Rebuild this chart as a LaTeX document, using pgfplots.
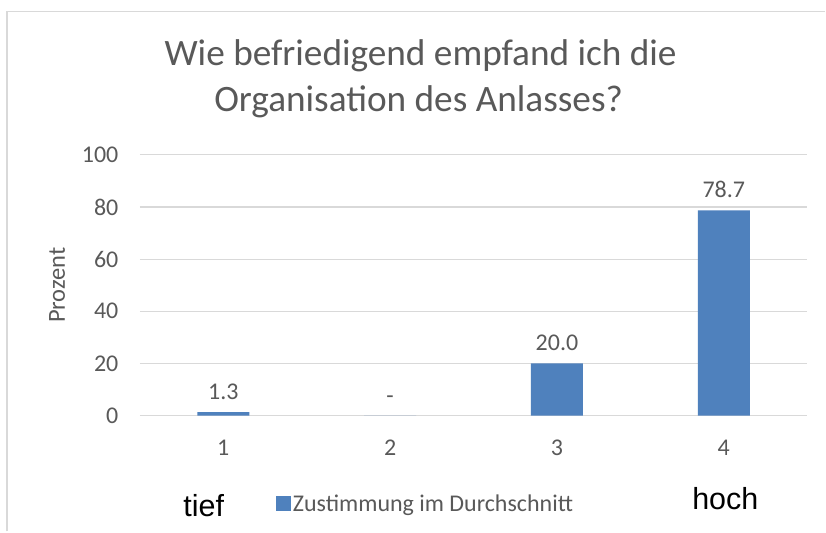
\documentclass[border=0pt]{standalone}
\usepackage{fontspec}
\setmainfont{Carlito}
\newfontfamily\arial{Liberation Sans}
\usepackage{pgfplots}
\pgfplotsset{compat=1.18}
\definecolor{barblue}{HTML}{4F81BD}
\definecolor{txtgray}{HTML}{595959}
\definecolor{gridgray}{HTML}{D9D9D9}
\begin{document}
\begin{tikzpicture}[x=1pt,y=1pt]
\path[fill=white] (0,0) rectangle (826,532);
% chart frame, only left and top edges fall inside the picture
\draw[gridgray, line width=1.6pt] (7,0) -- (7,520.5) -- (826,520.5);
\node[txtgray, anchor=base, font=\fontsize{37.3}{45}\selectfont] at (421,466)
  {Wie befriedigend empfand ich die};
\node[txtgray, anchor=base, font=\fontsize{37.3}{45}\selectfont] at (419,420)
  {Organisation des Anlasses?};
\begin{axis}[
  at={(140pt,116pt)}, anchor=south west,
  scale only axis, width=668pt, height=261pt,
  xmin=0.5, xmax=4.5, ymin=0, ymax=100,
  xtick={1,2,3,4}, ytick={0,20,...,100},
  axis line style={draw=none}, tick style={draw=none},
  ymajorgrids, grid style={gridgray, line width=1.2pt},
  ticklabel style={font=\fontsize{24}{28}\selectfont, text=txtgray},
  xticklabel style={yshift=-17pt},
  yticklabel style={xshift=-18pt},
  /pgf/number format/assume math mode=true,
  ylabel={Prozent},
  ylabel style={at={(axis description cs:-0.124,0.5)}, anchor=center,
    font=\fontsize{24.5}{28}\selectfont, text=txtgray},
  ybar, bar width=52pt,
  point meta=explicit symbolic,
  nodes near coords,
  nodes near coords style={font=\fontsize{24}{28}\selectfont, text=txtgray, yshift=9pt},
  legend style={at={(0.428,-0.337)}, anchor=center, draw=none, fill=none,
    font=\fontsize{24}{28}\selectfont, text=txtgray},
  legend image code/.code={\fill[barblue] (0pt,-7.5pt) rectangle (15pt,7.5pt);},
]
\addplot[fill=barblue, draw=none] coordinates {(1,1.3) [1.3] (2,0) [-] (3,20) [20.0] (4,78.7) [78.7]};
\legend{Zustimmung im Durchschnitt}
\end{axis}
\node[anchor=base, font=\arial\fontsize{30.5}{36}\selectfont] at (204,15) {tief};
\node[anchor=base, font=\arial\fontsize{30.5}{36}\selectfont] at (726,22) {hoch};
\end{tikzpicture}
\end{document}
